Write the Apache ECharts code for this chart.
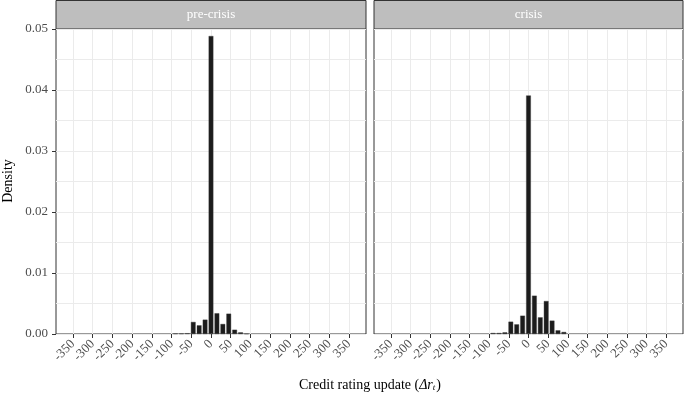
<!DOCTYPE html>
<html>
<head>
<meta charset="utf-8">
<script src="https://cdn.jsdelivr.net/npm/echarts@6/dist/echarts.min.js"></script>
<style>
  html, body { margin: 0; padding: 0; background: #fff; }
  #chart { width: 685px; height: 397px; }
</style>
</head>
<body>
<div id="chart"></div>
<script>
// histogram bins (centre of each 15-point bin) and densities per panel
const binCenters = [-90, -75, -60, -45, -30, -15, 0, 15, 30, 45, 60, 75, 90];
const preCrisis = [0.00008, 0.00008, 0.00012, 0.00197, 0.00142, 0.00235, 0.04885, 0.0034, 0.00164, 0.00333, 0.0007, 0.00027, 0.00005];
const crisis = [0.00016, 0.00016, 0.00027, 0.00202, 0.00158, 0.0030, 0.0391, 0.00628, 0.00273, 0.0054, 0.00219, 0.0006, 0.00033];
const xTicks = [-350, -300, -250, -200, -150, -100, -50, 0, 50, 100, 150, 200, 250, 300, 350];
const panelNames = ['pre-crisis', 'crisis'];

const FONT = '"Liberation Serif", "DejaVu Serif", serif';
const chart = echarts.init(document.getElementById('chart'));

const grids = [
  { left: 56, top: 29, width: 310, height: 305 },
  { left: 374, top: 29, width: 309, height: 305 }
];

const option = {
  animation: false,
  backgroundColor: '#fff',
  grid: grids.map(g => ({
    ...g,
    show: true,
    borderColor: '#333',
    borderWidth: 1,
    backgroundColor: '#fff'
  })),
  xAxis: grids.map((g, i) => ({
    type: 'value',
    gridIndex: i,
    min: -393,
    max: 393,
    axisLine: { show: false, onZero: false },
    axisTick: {
      show: true,
      length: 4,
      customValues: xTicks,
      lineStyle: { color: '#333' }
    },
    axisLabel: {
      customValues: xTicks,
      rotate: 45,
      margin: 8,
      color: '#4d4d4d',
      fontFamily: FONT,
      fontSize: 13
    },
    splitLine: { show: true, lineStyle: { color: '#ebebeb', width: 1 } }
  })),
  yAxis: grids.map((g, i) => ({
    type: 'value',
    gridIndex: i,
    position: 'left',
    min: 0,
    max: 0.05,
    interval: 0.01,
    axisLine: { show: false, onZero: false },
    axisTick: { show: i === 0, length: 4, lineStyle: { color: '#333' } },
    axisLabel: {
      show: i === 0,
      margin: 8,
      color: '#4d4d4d',
      fontFamily: FONT,
      fontSize: 13,
      formatter: v => v.toFixed(2)
    },
    splitLine: { show: true, lineStyle: { color: '#ebebeb', width: 1 } },
    minorTick: { show: false, splitNumber: 2 },
    minorSplitLine: { show: true, lineStyle: { color: '#ebebeb', width: 1 } }
  })),
  series: [preCrisis, crisis].map((vals, i) => ({
    name: panelNames[i],
    type: 'bar',
    xAxisIndex: i,
    yAxisIndex: i,
    barWidth: 4.7,
    data: binCenters.map((c, k) => [c, vals[k]]),
    itemStyle: { color: '#1c1c1c', borderColor: '#3a3a3a', borderWidth: 0.4 }
  })),
  graphic: [
    // facet strips
    ...grids.map((g, i) => ({
      type: 'group',
      children: [
        {
          type: 'rect',
          shape: { x: g.left, y: 0.5, width: g.width, height: 28.5 },
          style: { fill: '#bebebe', stroke: '#333', lineWidth: 1 }
        },
        {
          type: 'text',
          style: {
            x: g.left + g.width / 2,
            y: 15,
            text: panelNames[i],
            align: 'center',
            verticalAlign: 'middle',
            fill: '#fff',
            font: '13px ' + FONT
          }
        }
      ]
    })),
    {
      type: 'text',
      x: 8,
      y: 181,
      rotation: Math.PI / 2,
      style: {
        text: 'Density',
        align: 'center',
        verticalAlign: 'middle',
        fill: '#000',
        font: '14px ' + FONT
      }
    },
    {
      type: 'text',
      style: {
        x: 370,
        y: 385,
        text: '{a|Credit rating update (}{b|Δr}{c|t}{a|)}',
        align: 'center',
        verticalAlign: 'middle',
        rich: {
          a: { fontFamily: FONT, fontSize: 14, color: '#000' },
          b: { fontFamily: FONT, fontSize: 14, fontStyle: 'italic', color: '#000' },
          c: { fontFamily: FONT, fontSize: 9, fontStyle: 'italic', color: '#000', padding: [6, 1, 0, 0] }
        }
      }
    }
  ]
};

chart.setOption(option);
</script>
</body>
</html>
